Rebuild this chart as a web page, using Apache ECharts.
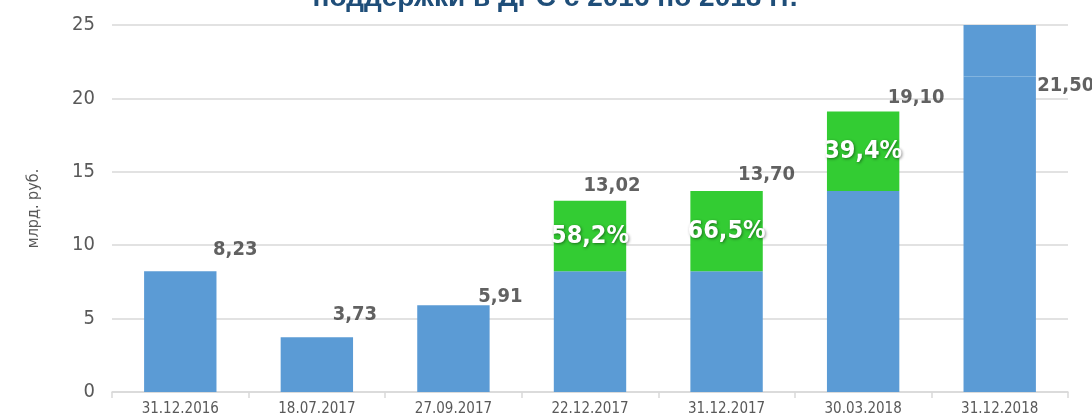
<!DOCTYPE html>
<html><head><meta charset="utf-8">
<script src="https://cdn.jsdelivr.net/npm/echarts@6/dist/echarts.min.js"></script>
<style>html,body{margin:0;padding:0;background:#fff}#c{width:1092px;height:419px}</style>
</head><body><div id="c"></div>
<script>
var categories = ['31.12.2016','18.07.2017','27.09.2017','22.12.2017','31.12.2017','30.03.2018','31.12.2018'];
var baseValues = [8.23, 3.73, 5.91, 8.23, 8.23, 13.70, 21.50];
var growthValues = [0, 0, 0, 4.79, 5.47, 5.40, 0];
var overflowValues = [0, 0, 0, 0, 0, 0, 4.5];
var totals = [8.23, 3.73, 5.91, 13.02, 13.70, 19.10, 21.50];
var growthLabels = ['', '', '', '58,2%', '66,5%', '39,4%', ''];
var yTicks = [0, 5, 10, 15, 20, 25];

var labelOffsets = [[55,-21],[38,-22],[47,-8],[22,-15],[40,-16],[53,-14],[66,9]];
var narrow = '"DejaVu Sans Condensed","Liberation Sans Narrow","Arial Narrow",sans-serif';

var chart = echarts.init(document.getElementById('c'), null, {renderer:'canvas'});
chart.setOption({
  animation: false,
  title: {
    text: 'поддержки в ДРС с 2016 по 2018 гг.',
    left: 550, textAlign: 'center', top: -21,
    textStyle: {color:'#1F4E79', fontSize: 28, fontWeight:'bold', fontFamily: '"Liberation Sans",Arial,sans-serif'}
  },
  grid: {left: 112, right: 24, top: 25, bottom: 27},
  xAxis: {
    type: 'category', data: categories,
    axisLine: {lineStyle: {color:'#d9d9d9', width: 1.5}},
    axisTick: {show: true, length: 6, lineStyle: {color:'#d9d9d9', width: 1.5}},
    axisLabel: {color:'#595959', fontSize: 15, fontFamily: narrow, margin: 10}
  },
  yAxis: {
    type: 'value', min: yTicks[0], max: yTicks[yTicks.length-1], interval: 5,
    name: 'млрд. руб.', nameLocation: 'middle', nameGap: 70, nameRotate: 90,
    nameTextStyle: {color:'#595959', fontSize: 16, fontFamily: narrow},
    axisLine: {show: false}, axisTick: {show: false},
    splitLine: {lineStyle: {color:'#d9d9d9', width: 1.5}},
    axisLabel: {color:'#595959', fontSize: 20, fontFamily: narrow, margin: 17}
  },
  series: [
    {type:'bar', stack:'a', data: baseValues, barWidth: '53%', itemStyle:{color:'#5B9BD5'}, clip: true},
    {type:'bar', stack:'a', data: growthValues, barWidth: '53%', itemStyle:{color:'#33CC33'}, clip: true,
     label: {show: true, position: 'inside',
       formatter: function(p){ return growthLabels[p.dataIndex]; },
       color:'#fff', fontSize: 25, fontWeight:'bold', fontFamily: narrow,
       textShadowColor:'rgba(0,0,0,0.45)', textShadowBlur: 3, textShadowOffsetX: 1, textShadowOffsetY: 1}
    },
    {type:'bar', stack:'a', data: overflowValues, barWidth: '53%', itemStyle:{color:'#5B9BD5'}, clip: true},
    {type:'scatter', symbolSize: 0, z: 10, clip: false,
     data: totals.map(function(v, i){
       return {value: v, label: {offset: labelOffsets[i]}};
     }),
     label: {show: true, position: 'inside',
       formatter: function(p){ return p.value.toFixed(2).replace('.', ','); },
       color:'#3a3a3a', fontSize: 20, fontWeight:'bold', fontFamily: narrow}
    }
  ]
});
</script></body></html>
